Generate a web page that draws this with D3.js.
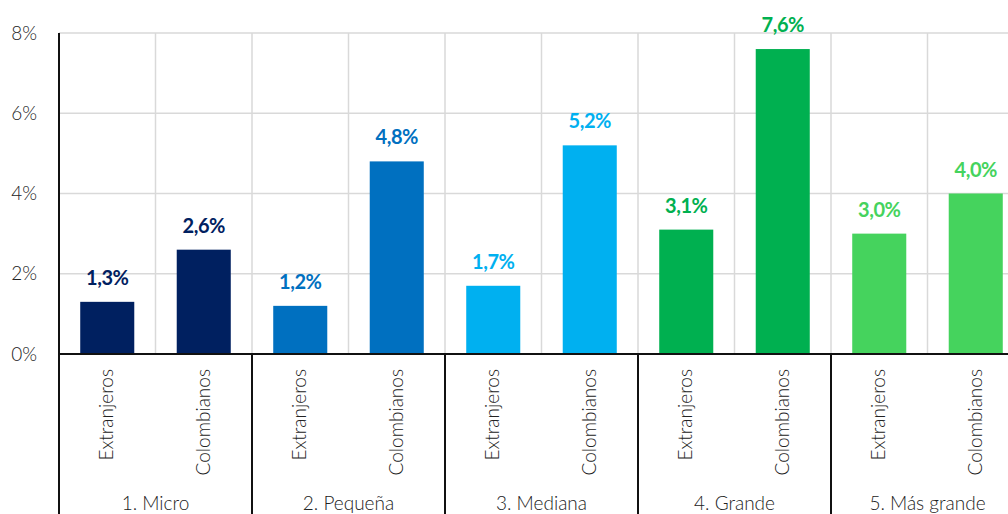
<!DOCTYPE html>
<html>
<head>
<meta charset="utf-8">
<script src="https://cdn.jsdelivr.net/npm/d3@7"></script>
<style>
  html, body { margin: 0; padding: 0; background: #fff; overflow: hidden; }
  svg { display: block; }
  text { font-family: "Lato", "Roboto", sans-serif; }
</style>
</head>
<body>
<svg id="chart" width="1008" height="514"></svg>
<script>
// Company sizes and the two owner groups within each
const groups = ["1. Micro", "2. Pequeña", "3. Mediana", "4. Grande", "5. Más grande"];
const owners = ["Extranjeros", "Colombianos"];
const extranjeros = [1.3, 1.2, 1.7, 3.1, 3.0];
const colombianos = [2.6, 4.8, 5.2, 7.6, 4.0];
const groupColors = ["#002060", "#0070c0", "#00b0f0", "#00b050", "#45d35d"];
const yTicks = [0, 2, 4, 6, 8];

const rows = [];
groups.forEach((g, i) => {
  rows.push({ group: g, owner: owners[0], value: extranjeros[i], color: groupColors[i], key: g + "|" + owners[0] });
  rows.push({ group: g, owner: owners[1], value: colombianos[i], color: groupColors[i], key: g + "|" + owners[1] });
});

const svg = d3.select("#chart");
const plotLeft = 59, plotTop = 33, base = 354, bandW = 96.5;

const x = d3.scaleBand()
  .domain(rows.map(d => d.key))
  .range([plotLeft, plotLeft + bandW * rows.length])
  .paddingInner(0.44)
  .paddingOuter(0.22);

const xGroup = d3.scaleBand()
  .domain(groups)
  .range([plotLeft, plotLeft + bandW * rows.length]);

const y = d3.scaleLinear().domain([0, 8]).range([base, plotTop]);

const fmt = v => d3.format(".1f")(v).replace(".", ",") + "%";

// Horizontal gridlines
svg.append("g")
  .selectAll("line")
  .data(yTicks.filter(t => t > 0))
  .join("line")
  .attr("x1", plotLeft).attr("x2", 1008)
  .attr("y1", d => y(d)).attr("y2", d => y(d))
  .attr("stroke", "#d9d9d9").attr("stroke-width", 1.5);

// Vertical gridlines at each band edge
const edges = d3.range(1, rows.length + 1).map(i => plotLeft + i * bandW);
svg.append("g")
  .selectAll("line")
  .data(edges)
  .join("line")
  .attr("x1", d => d).attr("x2", d => d)
  .attr("y1", plotTop).attr("y2", base)
  .attr("stroke", "#d9d9d9").attr("stroke-width", 1.5);

// Bars
svg.append("g")
  .selectAll("rect")
  .data(rows)
  .join("rect")
  .attr("x", d => x(d.key))
  .attr("width", x.bandwidth())
  .attr("y", d => y(d.value))
  .attr("height", d => y(0) - y(d.value))
  .attr("fill", d => d.color);

// Value labels
svg.append("g")
  .selectAll("text")
  .data(rows)
  .join("text")
  .attr("x", d => x(d.key) + x.bandwidth() / 2)
  .attr("y", d => y(d.value) - 17)
  .attr("text-anchor", "middle")
  .attr("font-size", 20)
  .attr("font-weight", "bold")
  .attr("letter-spacing", -0.5)
  .attr("fill", d => d.color)
  .text(d => fmt(d.value));

// Y axis labels
const yAxis = d3.axisLeft(y).tickValues(yTicks).tickSize(0).tickPadding(0).tickFormat(d => d + "%");
const yg = svg.append("g").attr("transform", `translate(37,0)`).call(yAxis);
yg.select(".domain").remove();
yg.selectAll("text")
  .attr("font-size", 19)
  .attr("font-weight", 300)
  .attr("fill", "#222")
  .attr("font-family", "Lato, Roboto, sans-serif");

// Axis lines
svg.append("line")
  .attr("x1", plotLeft).attr("x2", plotLeft)
  .attr("y1", plotTop).attr("y2", 514)
  .attr("stroke", "#111").attr("stroke-width", 2);
svg.append("line")
  .attr("x1", plotLeft).attr("x2", 1008)
  .attr("y1", base).attr("y2", base)
  .attr("stroke", "#111").attr("stroke-width", 2);

// Group separators below the baseline
svg.append("g")
  .selectAll("line")
  .data(groups.slice(1))
  .join("line")
  .attr("x1", d => xGroup(d)).attr("x2", d => xGroup(d))
  .attr("y1", base).attr("y2", 514)
  .attr("stroke", "#111").attr("stroke-width", 2);

// Rotated owner labels
svg.append("g")
  .selectAll("text")
  .data(rows)
  .join("text")
  .attr("transform", d => `translate(${x(d.key) + x.bandwidth() / 2 + 6},369) rotate(-90)`)
  .attr("text-anchor", "end")
  .attr("font-size", 19)
  .attr("font-weight", 300)
  .attr("fill", "#222")
  .text(d => d.owner);

// Group labels
svg.append("g")
  .selectAll("text")
  .data(groups)
  .join("text")
  .attr("x", d => xGroup(d) + xGroup.bandwidth() / 2)
  .attr("y", 510)
  .attr("text-anchor", "middle")
  .attr("font-size", 19)
  .attr("font-weight", 300)
  .attr("fill", "#222")
  .text(d => d);
</script>
</body>
</html>
